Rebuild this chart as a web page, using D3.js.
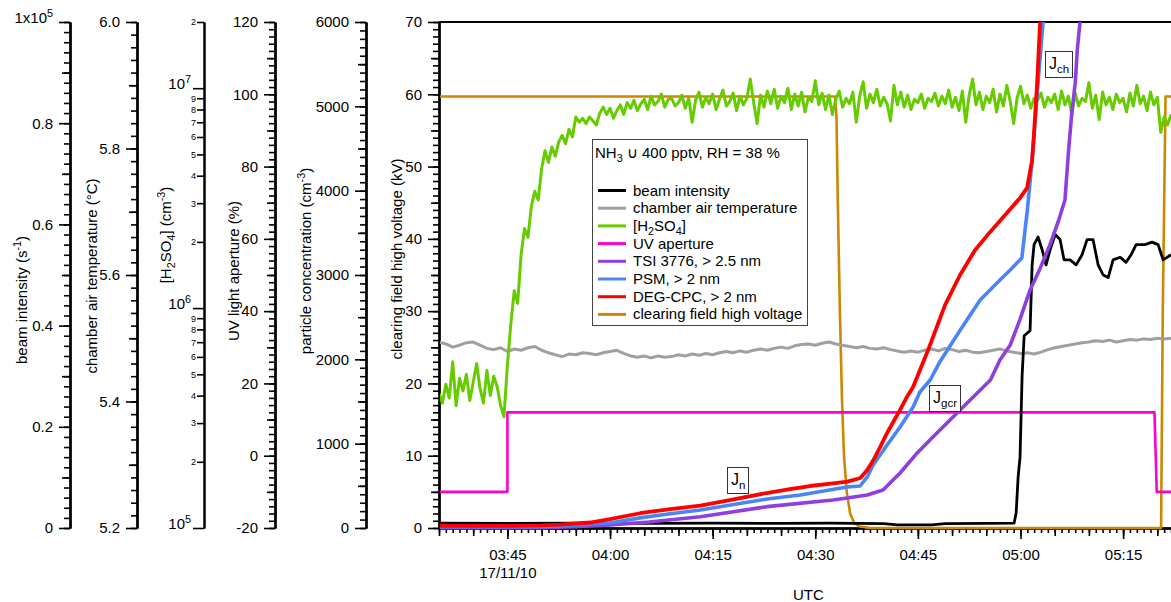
<!DOCTYPE html>
<html>
<head>
<meta charset="utf-8">
<script src="https://cdn.jsdelivr.net/npm/d3@7"></script>
<style>
  body { margin: 0; background: #fff; }
  text { font-family: "Liberation Sans", Arial, sans-serif; }
</style>
</head>
<body>
<div class="canvas"></div>
<script>
// ---- data ----
const timeStart = "03:35:00";
const timeEnd = "05:22:00";

// [H2SO4] in 10^6 cm^-3, one sample every 30 s from 03:35
const h2so4Start = "03:35:00";
const h2so4StepSec = 30;
const h2so4 = [
  0.41, 0.37, 0.45, 0.39, 0.57, 0.36, 0.48, 0.42, 0.50, 0.38,
  0.46, 0.56, 0.43, 0.37, 0.52, 0.40, 0.49, 0.44, 0.36, 0.32,
  0.55, 0.85, 1.2, 1.05, 1.75, 2.3, 2.1, 2.9, 3.4, 3.1,
  4.3, 5.2, 4.6, 5.4, 4.9, 5.7, 6.1, 5.6, 6.5, 6.0,
  7.4, 7.0, 7.3, 6.9, 7.4, 7.1, 6.8, 7.7, 8.2, 7.6,
  8.1, 7.3, 7.9, 8.4, 7.6, 8.6, 8.1, 8.8, 7.9, 8.5,
  8.9, 8.0, 9.2, 8.4, 8.7, 9.4, 8.2, 8.9, 9.0, 8.3,
  8.6, 9.3, 8.1, 9.0, 7.0, 8.8, 9.6, 8.2, 9.1, 8.5,
  9.4, 8.0, 8.9, 9.8, 8.3, 8.7, 9.5, 7.9, 9.2, 8.4,
  9.0, 11.0, 8.6, 6.9, 9.3, 8.2, 9.7, 8.5, 9.9, 8.1,
  9.2, 8.6, 10.0, 8.0, 9.4, 8.3, 9.6, 7.8, 9.1, 8.7,
  10.8, 8.4, 9.5, 8.0, 9.3, 7.6, 8.9, 9.7, 8.2, 9.0,
  8.5, 9.6, 7.0, 9.2, 10.7, 8.1, 9.4, 8.6, 9.9, 8.3,
  9.1, 8.5, 7.1, 10.3, 8.4, 9.6, 8.2, 9.3, 8.0, 8.9,
  8.6, 9.4, 8.1, 9.0, 8.7, 9.5, 8.3, 9.2, 8.5, 9.8,
  8.2, 9.1, 7.9, 9.7, 7.0, 9.3, 11.0, 8.4, 9.6, 8.0,
  9.2, 8.6, 9.9, 7.8, 9.4, 8.3, 10.3, 8.7, 6.9, 9.0,
  10.2, 8.5, 9.3, 8.1, 9.0, 8.8, 9.5, 8.2, 9.1, 8.6,
  9.4, 8.0, 9.7, 8.4, 9.2, 7.6, 9.5, 8.3, 9.0, 8.7,
  10.6, 8.1, 9.3, 7.2, 9.6, 8.4, 9.1, 8.0, 9.4, 8.6,
  9.0, 7.8, 9.5, 8.3, 10.3, 8.5, 9.2, 7.9, 9.6, 8.4,
  9.1, 6.3, 7.4, 6.8, 7.6
];

// chamber air temperature in °C, one value per minute from 03:35
const tempStart = "03:35:00";
const tempStepSec = 60;
const temperature = [
  5.494, 5.491, 5.486, 5.489, 5.493, 5.494, 5.489, 5.484, 5.482, 5.485,
  5.479, 5.483, 5.481, 5.485, 5.487, 5.481, 5.477, 5.474, 5.471, 5.475,
  5.474, 5.477, 5.476, 5.474, 5.477, 5.479, 5.481, 5.476, 5.472, 5.470,
  5.472, 5.469, 5.472, 5.470, 5.471, 5.474, 5.472, 5.475, 5.473, 5.476,
  5.474, 5.477, 5.479, 5.477, 5.480, 5.478, 5.481, 5.483, 5.481, 5.484,
  5.486, 5.484, 5.488, 5.490, 5.491, 5.489, 5.492, 5.494, 5.491, 5.489,
  5.487, 5.485, 5.487, 5.484, 5.483, 5.485, 5.482, 5.480, 5.478, 5.480,
  5.478, 5.481, 5.483, 5.480, 5.484, 5.482, 5.479, 5.481, 5.478, 5.477,
  5.479, 5.481, 5.483, 5.480, 5.478, 5.476, 5.477, 5.475, 5.478, 5.482,
  5.485, 5.487, 5.489, 5.491, 5.493, 5.494, 5.496, 5.495, 5.497, 5.494,
  5.496, 5.498, 5.497, 5.499, 5.498, 5.500, 5.499, 5.500
];

// beam intensity, s^-1
const beamTimes = ["03:35:00", "03:45:00", "03:55:00", "04:05:00", "04:15:00", "04:25:00",
  "04:32:00", "04:40:00", "04:42:00", "04:47:00", "04:49:00", "04:55:00", "04:59:04",
  "04:59:22", "04:59:39", "04:59:56", "05:00:14", "05:00:32", "05:00:58", "05:01:24",
  "05:01:42", "05:01:59", "05:02:34", "05:03:10", "05:03:44", "05:04:20", "05:05:04",
  "05:05:47", "05:06:22", "05:07:15", "05:08:08", "05:09:00", "05:09:44", "05:10:36",
  "05:11:21", "05:12:05", "05:12:49", "05:13:32", "05:14:34", "05:15:26", "05:16:10",
  "05:16:54", "05:18:12", "05:19:14", "05:20:07", "05:20:51", "05:22:00"];
const beamValues = [950, 900, 950, 900, 950, 900,
  950, 850, 600, 600, 850, 900, 950,
  3000, 10000, 14000, 30000, 38000, 38500, 39000,
  52000, 56000, 57500, 55000, 52000, 55000, 58000,
  57000, 53000, 53000, 52000, 54000, 57000, 57000,
  52000, 50000, 49500, 53000, 53500, 52500, 54000,
  56000, 56000, 56500, 56000, 53000, 54000];

// UV light aperture, %
const uvTimes = ["03:35:00", "03:45:00", "03:45:00", "05:19:35", "05:19:55", "05:22:00"];
const uvValues = [-10, -10, 12, 12, -10, -10];

// particle concentrations, cm^-3
const tsiTimes = ["03:35:00", "03:50:00", "03:55:00", "04:00:00", "04:05:42", "04:13:12",
  "04:22:57", "04:32:36", "04:34:39", "04:37:36", "04:39:54", "04:42:24", "04:44:54",
  "04:47:12", "04:49:42", "04:52:12", "04:55:36", "04:57:00", "04:58:30", "04:59:54",
  "05:01:24", "05:02:54", "05:04:18", "05:05:30", "05:06:30", "05:07:00", "05:07:30",
  "05:08:00", "05:08:18", "05:08:42", "05:09:00"];
const tsiValues = [5, 5, 15, 36, 71, 134,
  253, 332, 356, 391, 451, 652, 890,
  1079, 1281, 1483, 1755, 1992, 2170, 2467,
  2823, 3084, 3356, 3629, 3890, 4447, 4922,
  5278, 5669, 6001, 6300];

const psmTimes = ["03:35:00", "03:50:00", "03:53:00", "04:00:00", "04:04:24", "04:08:48",
  "04:13:12", "04:22:57", "04:27:48", "04:34:39", "04:36:33", "04:37:36", "04:38:27",
  "04:40:30", "04:42:24", "04:44:18", "04:45:18", "04:46:48", "04:48:12", "04:51:12",
  "04:54:06", "04:57:00", "04:58:30", "05:00:12", "05:01:00", "05:01:42", "05:02:36",
  "05:03:18", "05:03:36"];
const psmValues = [15, 15, 25, 60, 120, 170,
  214, 344, 391, 486, 498, 605, 747,
  984, 1198, 1435, 1613, 1755, 1969, 2348,
  2704, 2941, 3060, 3202, 3771, 4364, 5313,
  6000, 6400];

const degTimes = ["03:35:00", "03:45:00", "03:50:00", "03:52:42", "03:57:06", "04:00:00",
  "04:04:24", "04:08:48", "04:13:12", "04:17:30", "04:22:54", "04:26:18", "04:29:12",
  "04:32:36", "04:34:42", "04:36:36", "04:37:36", "04:38:30", "04:39:30", "04:40:30",
  "04:41:24", "04:42:24", "04:43:24", "04:44:18", "04:46:30", "04:48:59", "04:51:10",
  "04:53:22", "04:55:34", "04:57:45", "04:59:56", "05:00:58", "05:01:42", "05:01:59",
  "05:02:26", "05:02:52", "05:03:10"];
const degValues = [25, 25, 30, 40, 65, 105,
  175, 225, 265, 330, 415, 460, 498,
  530, 549, 593, 688, 806, 961, 1127,
  1257, 1400, 1554, 1672, 2111, 2645, 3000,
  3297, 3511, 3712, 3914, 4032, 4364, 4685,
  5278, 6001, 6500];

// clearing field high voltage, kV
const hvTimes = ["03:35:00", "04:32:54", "04:33:06", "04:33:18", "04:33:36", "04:33:54",
  "04:34:12", "04:34:36", "04:35:06", "04:35:42", "04:36:30", "04:38:00", "05:20:33",
  "05:20:48", "05:21:12", "05:22:00"];
const hvValues = [59.7, 59.7, 57, 45, 30, 18,
  10, 5, 2, 0.7, 0.2, 0, 0,
  30, 59.7, 59.7];

// axis ticks
const beamTicks = [0, 20000, 40000, 60000, 80000, 100000];
const tempTicks = [5.2, 5.4, 5.6, 5.8, 6.0];
const h2so4Ticks = [1e5, 1e6, 1e7];
const uvTicks = [-20, 0, 20, 40, 60, 80, 100, 120];
const concTicks = [0, 1000, 2000, 3000, 4000, 5000, 6000];
const kvTicks = [0, 10, 20, 30, 40, 50, 60, 70];

const legendNames = [
  ["beam intensity"],
  ["chamber air temperature"],
  ["[H", ["2", "sub"], "SO", ["4", "sub"], "]"],
  ["UV aperture"],
  ["TSI 3776, > 2.5 nm"],
  ["PSM, > 2 nm"],
  ["DEG-CPC, > 2 nm"],
  ["clearing field high voltage"]
];
const legendColors = ["#000000", "#a0a0a0", "#66cc00", "#ff00cc", "#8f3fe0", "#4a84f5", "#ff0000", "#cc8800"];

// annotation labels (time of text start, kV of box centre)
const annLabels = ["n", "gcr", "ch"];
const annTimes = ["04:17:41", "04:47:13", "05:04:10"];
const annKV = [6.6, 18.0, 64.2];

// ---- chart ----
const W = 1171, H = 602;
const plotLeft = 439, plotRight = 1171, plotTop = 22, plotBottom = 528;
const fs = 15;
const parseTime = d3.timeParse("%H:%M:%S");

const svg = d3.select(".canvas").append("svg").attr("width", W).attr("height", H);

const x = d3.scaleTime().domain([parseTime(timeStart), parseTime(timeEnd)]).range([plotLeft, plotRight]);
const yKV = d3.scaleLinear().domain([0, 70]).range([plotBottom, plotTop]);
const yBeam = d3.scaleLinear().domain([0, 100000]).range([plotBottom, plotTop]);
const yTemp = d3.scaleLinear().domain([5.2, 6.0]).range([plotBottom, plotTop]);
const yH2 = d3.scaleLog().domain([1e5, 2e7]).range([plotBottom, plotTop]);
const yUV = d3.scaleLinear().domain([-20, 120]).range([plotBottom, plotTop]);
const yConc = d3.scaleLinear().domain([0, 6000]).range([plotBottom, plotTop]);

// write text with sub/superscripts
function rich(sel, parts) {
  sel.text(null);
  let shift = 0;
  parts.forEach(p => {
    const s = typeof p === "string" ? p : p[0];
    const k = typeof p === "string" ? 0 : (p[1] === "sub" ? 4 : -6);
    const t = sel.append("tspan").text(s).attr("dy", k - shift);
    if (k !== 0) t.attr("font-size", "72%");
    shift = k;
  });
}

function styleAxis(g) {
  g.selectAll("path.domain").attr("stroke", "#000").attr("stroke-width", 2);
  g.selectAll(".tick line").attr("stroke", "#000").attr("stroke-width", 1.6);
  g.selectAll("text").attr("font-family", '"Liberation Sans", Arial, sans-serif').attr("fill", "#000");
}

function vAxis(xPos, scale, majors, mediumVals, minorVals, fmt) {
  const g = svg.append("g").attr("transform", `translate(${xPos},0)`);
  g.append("g").call(d3.axisLeft(scale).tickValues(minorVals).tickSize(6).tickSizeOuter(0).tickFormat(""));
  if (mediumVals.length)
    g.append("g").call(d3.axisLeft(scale).tickValues(mediumVals).tickSize(8).tickSizeOuter(0).tickFormat(""));
  const major = g.append("g")
    .call(d3.axisLeft(scale).tickValues(majors).tickSize(11).tickSizeOuter(0).tickFormat(fmt));
  styleAxis(g);
  major.selectAll("text").attr("x", -17).attr("font-size", fs);
  return major;
}

function steps(from, to, step) {
  const n = Math.round((to - from) / step);
  return d3.range(n + 1).map(i => +(from + i * step).toFixed(6));
}

// beam intensity axis
const beamAx = vAxis(70, yBeam, beamTicks, steps(10000, 90000, 20000), steps(0, 100000, 2000),
  d => d === 0 ? "0" : (d / 1e5).toFixed(1));
beamAx.selectAll("text").filter(d => d === 100000).each(function () { rich(d3.select(this), ["1x10", ["5", "sup"]]); });

// temperature axis
vAxis(137, yTemp, tempTicks, steps(5.3, 5.9, 0.2), steps(5.2, 6.0, 0.02), d3.format(".1f"));

// [H2SO4] log axis
{
  const g = svg.append("g").attr("transform", "translate(204,0)");
  const minors = [];
  [1e5, 1e6, 1e7].forEach(dec => [2, 3, 4, 5, 6, 7, 8, 9].forEach(m => { if (m * dec <= 2e7) minors.push(m * dec); }));
  const mg = g.append("g").call(d3.axisLeft(yH2).tickValues(minors).tickSize(7).tickSizeOuter(0)
    .tickFormat(d => String(Math.round(d / Math.pow(10, Math.floor(Math.log10(d) + 1e-9))))));
  const Mg = g.append("g").call(d3.axisLeft(yH2).tickValues(h2so4Ticks).tickSize(11).tickSizeOuter(0).tickFormat(""));
  styleAxis(g);
  mg.selectAll("text").attr("x", -8).attr("font-size", 9);
  Mg.selectAll("text").attr("x", -13).attr("font-size", fs)
    .each(function (d) { rich(d3.select(this), ["10", [String(Math.round(Math.log10(d))), "sup"]]); });
}

// UV aperture axis
vAxis(275, yUV, uvTicks, steps(-10, 110, 20), steps(-20, 120, 2), d => String(d));

// particle concentration axis
vAxis(366, yConc, concTicks, steps(500, 5500, 1000), steps(0, 6000, 100), d => String(d));

// clearing field kV axis (main)
vAxis(plotLeft, yKV, kvTicks, steps(5, 65, 10), steps(0, 70, 1), d => String(d));

// top frame
svg.append("line")
  .attr("x1", plotLeft).attr("x2", plotRight)
  .attr("y1", yKV(70)).attr("y2", yKV(70))
  .attr("stroke", "#000").attr("stroke-width", 2);

// x axis
{
  const g = svg.append("g").attr("transform", `translate(0,${plotBottom})`);
  g.append("g").call(d3.axisBottom(x).ticks(d3.timeMinute.every(1)).tickSize(5).tickSizeOuter(0).tickFormat(""));
  g.append("g").call(d3.axisBottom(x).ticks(d3.timeMinute.every(5)).tickSize(8).tickSizeOuter(0).tickFormat(""));
  const major = g.append("g").call(d3.axisBottom(x).ticks(d3.timeMinute.every(15)).tickSize(11).tickSizeOuter(0)
    .tickFormat(d3.timeFormat("%H:%M")));
  styleAxis(g);
  major.selectAll("text").attr("y", 21).attr("font-size", fs);
  major.selectAll(".tick").filter((d, i) => i === 0).append("text")
    .attr("y", 39).attr("dy", "0.71em").attr("text-anchor", "middle")
    .attr("font-size", fs).attr("fill", "#000").text("17/11/10");
}

svg.append("text").attr("x", x(parseTime("04:29:00"))).attr("y", 600)
  .attr("text-anchor", "middle").attr("font-size", fs).text("UTC");

// axis titles
const titles = [
  [27, 300, ["beam intensity (s", ["-1", "sup"], ")"]],
  [97, 276, ["chamber air temperature (°C)"]],
  [171, 235, ["[H", ["2", "sub"], "SO", ["4", "sub"], "] (cm", ["-3", "sup"], ")"]],
  [239, 271, ["UV light aperture (%)"]],
  [311, 261, ["particle concentration (cm", ["-3", "sup"], ")"]],
  [402, 259, ["clearing field high voltage (kV)"]]
];
titles.forEach(([bx, cy, parts]) => {
  const t = svg.append("text")
    .attr("transform", `translate(${bx},${cy}) rotate(-90)`)
    .attr("text-anchor", "middle").attr("font-size", fs);
  rich(t, parts);
});

// ---- series ----
svg.append("defs").append("clipPath").attr("id", "plotclip")
  .append("rect").attr("x", plotLeft + 1).attr("y", plotTop)
  .attr("width", plotRight - plotLeft).attr("height", plotBottom - plotTop + 3);

const plot = svg.append("g").attr("clip-path", "url(#plotclip)");

function pairs(times, values) {
  return times.map((t, i) => ({ t: parseTime(t), v: values[i] }));
}
function regular(start, stepSec, values, mult) {
  const t0 = parseTime(start);
  return values.map((v, i) => ({ t: d3.timeSecond.offset(t0, i * stepSec), v: v * mult }));
}
function drawLine(data, yScale, color, width) {
  plot.append("path").datum(data)
    .attr("fill", "none").attr("stroke", color).attr("stroke-width", width)
    .attr("stroke-linejoin", "round")
    .attr("d", d3.line().x(d => x(d.t)).y(d => yScale(d.v)));
}

drawLine(pairs(hvTimes, hvValues), yKV, legendColors[7], 2.6);
drawLine(regular(tempStart, tempStepSec, temperature, 1), yTemp, legendColors[1], 3);
drawLine(regular(h2so4Start, h2so4StepSec, h2so4, 1e6), yH2, legendColors[2], 3);
drawLine(pairs(uvTimes, uvValues), yUV, legendColors[3], 2.6);
drawLine(pairs(beamTimes, beamValues), yBeam, legendColors[0], 2.8);
drawLine(pairs(tsiTimes, tsiValues), yConc, legendColors[4], 3.6);
drawLine(pairs(psmTimes, psmValues), yConc, legendColors[5], 3.6);
drawLine(pairs(degTimes, degValues), yConc, legendColors[6], 3.8);

// ---- annotations ----
annLabels.forEach((lab, i) => {
  const tx = x(parseTime(annTimes[i]));
  const cy = yKV(annKV[i]);
  const g = svg.append("g");
  const t = g.append("text").attr("x", tx).attr("y", cy + 5).attr("font-size", 16);
  rich(t, ["J", [lab, "sub"]]);
  const bb = t.node().getBBox();
  g.insert("rect", "text")
    .attr("x", Math.round(bb.x - 4) + 0.5).attr("y", Math.round(cy - 13) + 0.5)
    .attr("width", Math.round(bb.width + 7)).attr("height", 26)
    .attr("fill", "#fff").attr("stroke", "#333").attr("stroke-width", 1);
});

// ---- legend ----
{
  const g = svg.append("g");
  g.append("rect").attr("x", 592.5).attr("y", 139.5).attr("width", 215).attr("height", 186)
    .attr("fill", "#fff").attr("stroke", "#444").attr("stroke-width", 1);
  rich(g.append("text").attr("x", 595).attr("y", 158).attr("font-size", fs),
    ["NH", ["3", "sub"], " \u222A 400 pptv, RH = 38 %"]);
  legendNames.forEach((parts, i) => {
    const yy = 190.5 + i * 17.7;
    g.append("line").attr("x1", 598).attr("x2", 626).attr("y1", yy).attr("y2", yy)
      .attr("stroke", legendColors[i]).attr("stroke-width", 3);
    rich(g.append("text").attr("x", 633).attr("y", yy + 5).attr("font-size", fs), parts);
  });
}
</script>
</body>
</html>
